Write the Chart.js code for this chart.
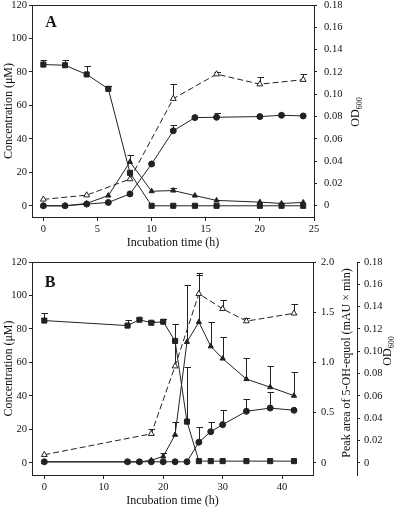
<!DOCTYPE html>
<html lang="en">
<head>
<meta charset="UTF-8">
<title>Conversion time course</title>
<script src="https://cdn.jsdelivr.net/npm/chart.js"></script>
<style>
  body { margin: 0; background: #fff; }
  #wrap { position: relative; width: 400px; height: 508px; overflow: hidden; }
  canvas { position: absolute; left: 0; }
  #chartA { top: 0; }
  #chartB { top: 250px; }
</style>
</head>
<body>
<div id="wrap">
  <canvas id="chartA" width="400" height="250"></canvas>
  <canvas id="chartB" width="400" height="258"></canvas>
</div>
<script>
// ---- panel A ----
const timeA = [0, 2, 4, 6, 8, 10, 12, 14, 16, 20, 22, 24];
const squaresA = [84.4, 84, 78.5, 69.9, 19.7, 0, 0, 0, 0, 0, 0, 0];
const squaresErrA = [87, 87, 83.6, 71.8, null, null, null, null, null, null, null, null];
const trianglesA = [0, 0, 1.4, 6.1, 26.2, 8.7, 9.1, 6.1, 3.2, 2.2, 1.4, 2.0];
const trianglesErrA = [null, null, null, null, 30.3, null, 10.6, null, null, null, null, null];
const circlesA = [0, 0, 1.0, 2.0, 7.1, 25, 44.8, 52.7, 52.9, 53.3, 54.1, 53.7];
const circlesErrA = [null, null, null, null, null, null, 48.2, null, 55.5, null, null, null];
const odTimeA = [0, 4, 8, 12, 16, 20, 24];
const odA = [0.0057, 0.0095, 0.0239, 0.096, 0.118, 0.109, 0.113];
const odErrA = [null, null, null, 0.109, 0.1195, 0.1157, 0.118];

// ---- panel B ----
const timeB = [0, 14, 16, 18, 20, 22, 24, 26, 28, 30, 34, 38, 42];
const squaresB = [85, 82, 85.5, 83.7, 84.3, 72.8, 24.6, 1, 1, 1, 1, 1, 1];
const squaresErrB = [89.5, 85.5, 86.7, 84.7, 85.9, null, 57.3, null, null, null, null, null, null];
const trianglesB = [0.5, 0.5, 0.5, 1.5, 3.8, 16.7, 72.2, 84.1, 69.6, 62.3, 50, 45.2, 40.1];
const trianglesErrB = [null, null, null, null, 5.8, 24.6, 106.4, 112, 84.1, 75.2, 62.7, 57.7, 54];
const circlesB = [0.01, 0.01, 0.01, 0.01, 0.01, 0.01, 0.01, 0.205, 0.31, 0.38, 0.513, 0.545, 0.523];
const circlesErrB = [null, null, null, null, null, null, null, 0.353, 0.41, 0.525, 0.638, 0.707, null];
const odTimeB = [0, 18, 22, 26, 30, 34, 42];
const odB = [0.0072, 0.026, 0.0866, 0.1515, 0.138, 0.127, 0.134];
const odErrB = [null, 0.030, 0.1245, 0.17, 0.1455, 0.13, 0.1425];

// ---- ticks ----
const xTicksA = [0, 5, 10, 15, 20, 25];
const xTicksB = [0, 10, 20, 30, 40];
const concTicks = [0, 20, 40, 60, 80, 100, 120];
const odTicks = [0, 0.02, 0.04, 0.06, 0.08, 0.10, 0.12, 0.14, 0.16, 0.18];
const odLabels = ['0', '0.02', '0.04', '0.06', '0.08', '0.10', '0.12', '0.14', '0.16', '0.18'];
const peakTicks = [0, 0.5, 1.0, 1.5, 2.0];
const peakLabels = ['0', '0.5', '1.0', '1.5', '2.0'];

Chart.defaults.font.family = "'Liberation Serif', 'Times New Roman', serif";
Chart.defaults.font.size = 10.5;
Chart.defaults.color = '#111';

const ink = '#222';

function pts(xs, ys) {
  return xs.map((x, i) => ({ x: x, y: ys[i] }));
}

function series(xs, ys, err, style, axis, extra) {
  return Object.assign({
    data: pts(xs, ys),
    errTop: err,
    yAxisID: axis,
    borderColor: ink,
    borderWidth: 1,
    pointStyle: style,
    pointRadius: style === 'rect' ? 3.6 : 3,
    pointBackgroundColor: ink,
    pointBorderColor: ink,
    pointBorderWidth: 1,
    tension: 0,
    fill: false
  }, extra || {});
}

const errorBars = {
  id: 'errorBars',
  beforeDatasetsDraw(chart) {
    const ctx = chart.ctx;
    const a = chart.chartArea;
    ctx.save();
    ctx.strokeStyle = ink;
    ctx.lineWidth = 1;
    ctx.strokeRect(a.left + 0.5, a.top + 0.5, a.right - a.left, a.bottom - a.top);
    chart.data.datasets.forEach(ds => {
      if (!ds.errTop) return;
      const xs = chart.scales.x, ys = chart.scales[ds.yAxisID];
      ds.data.forEach((p, j) => {
        const top = ds.errTop[j];
        if (top == null) return;
        const px = Math.round(xs.getPixelForValue(p.x)) + 0.5;
        const y0 = ys.getPixelForValue(p.y);
        const y1 = Math.round(ys.getPixelForValue(top)) + 0.5;
        ctx.beginPath();
        ctx.moveTo(px, y0);
        ctx.lineTo(px, y1);
        ctx.moveTo(px - 3, y1);
        ctx.lineTo(px + 3.5, y1);
        ctx.stroke();
      });
    });
    ctx.restore();
  }
};

// rotated side titles, letter tags
function sideTitle(ctx, x, y, main, sub) {
  ctx.save();
  ctx.translate(x, y);
  ctx.rotate(-Math.PI / 2);
  ctx.fillStyle = '#111';
  ctx.textBaseline = 'middle';
  ctx.font = "12px 'Liberation Serif'";
  const w1 = ctx.measureText(main).width;
  let w2 = 0;
  if (sub) {
    ctx.font = "8px 'Liberation Serif'";
    w2 = ctx.measureText(sub).width;
  }
  const start = -(w1 + w2) / 2;
  ctx.font = "12px 'Liberation Serif'";
  ctx.fillText(main, start, 0);
  if (sub) {
    ctx.font = "8px 'Liberation Serif'";
    ctx.fillText(sub, start + w1, 4);
  }
  ctx.restore();
}

function labelsPlugin(draw) {
  return { id: 'labels', afterDraw(chart) { draw(chart.ctx); } };
}

function axisBase(extra) {
  return Object.assign({
    grid: { drawOnChartArea: false, tickLength: 3, color: ink },
    border: { color: ink, width: 1 }
  }, extra);
}

function fixTicks(list) {
  return s => { s.ticks = list.map(v => ({ value: v })); };
}

function fixSize(dim, size) {
  return s => {
    s[dim] = size;
    s.paddingTop = 0; s.paddingBottom = 0; s.paddingLeft = 0; s.paddingRight = 0;
  };
}

function xAxis(min, max, ticks) {
  return axisBase({
    type: 'linear', position: 'bottom', min: min, max: max,
    grid: { drawOnChartArea: false, tickLength: 4, color: ink },
    afterBuildTicks: fixTicks(ticks),
    ticks: { padding: 2, maxRotation: 0, callback: v => v },
    title: { display: true, text: 'Incubation time (h)', font: { size: 12 }, padding: { top: 0, bottom: 0 } },
    afterFit: fixSize('height', 33)
  });
}

function concAxis(min) {
  return axisBase({
    position: 'left', min: min, max: 120,
    afterBuildTicks: fixTicks(concTicks),
    ticks: { padding: 2, callback: v => v },
    title: { display: true, text: 'Concentration (μM)', font: { size: 12 }, padding: { top: 2, bottom: 0 } },
    afterFit: fixSize('width', 32)
  });
}

// panel A
new Chart(document.getElementById('chartA'), {
  type: 'line',
  data: {
    datasets: [
      series(timeA, squaresA, squaresErrA, 'rect', 'y'),
      series(timeA, trianglesA, trianglesErrA, 'triangle', 'y'),
      series(timeA, circlesA, circlesErrA, 'circle', 'y'),
      series(odTimeA, odA, odErrA, 'triangle', 'yOd', { borderDash: [6, 3], pointBackgroundColor: '#fff', pointRadius: 3.4 })
    ]
  },
  options: {
    responsive: false,
    animation: false,
    layout: { padding: { top: 2, left: 0, right: 0, bottom: 0 } },
    plugins: { legend: { display: false }, tooltip: { enabled: false } },
    scales: {
      x: xAxis(-1.05, 25, xTicksA),
      y: concAxis(-6.7),
      yOd: axisBase({
        position: 'right', min: -0.0101, max: 0.18,
        afterBuildTicks: fixTicks(odTicks),
        ticks: { padding: 7, callback: (v, i) => odLabels[i] },
        afterFit: fixSize('width', 86)
      })
    }
  },
  plugins: [errorBars, labelsPlugin(ctx => {
    sideTitle(ctx, 356, 112, 'OD', '600');
    ctx.save();
    ctx.fillStyle = '#111';
    ctx.font = "bold 16px 'Liberation Serif'";
    ctx.textAlign = 'center';
    ctx.textBaseline = 'middle';
    ctx.fillText('A', 51, 23);
    ctx.restore();
  })]
});

// panel B
new Chart(document.getElementById('chartB'), {
  type: 'line',
  data: {
    datasets: [
      series(timeB, squaresB, squaresErrB, 'rect', 'y'),
      series(timeB, trianglesB, trianglesErrB, 'triangle', 'y'),
      series(timeB, circlesB, circlesErrB, 'circle', 'yPeak'),
      series(odTimeB, odB, odErrB, 'triangle', 'yOd', { borderDash: [6, 3], pointBackgroundColor: '#fff', pointRadius: 3.4 })
    ]
  },
  options: {
    responsive: false,
    animation: false,
    layout: { padding: { top: 12, left: 0, right: 0, bottom: 0 } },
    plugins: { legend: { display: false }, tooltip: { enabled: false } },
    scales: {
      x: xAxis(-2.07, 45.2, xTicksB),
      y: concAxis(-7.3),
      yPeak: axisBase({
        position: 'right', weight: 0, min: -0.1217, max: 2.0,
        afterBuildTicks: fixTicks(peakTicks),
        ticks: { padding: 5, callback: (v, i) => peakLabels[i] },
        afterFit: fixSize('width', 44)
      }),
      yOd: axisBase({
        position: 'right', weight: 1, min: -0.01095, max: 0.18,
        afterBuildTicks: fixTicks(odTicks),
        ticks: { padding: 4, callback: (v, i) => odLabels[i] },
        afterFit: fixSize('width', 43)
      })
    }
  },
  plugins: [errorBars, labelsPlugin(ctx => {
    sideTitle(ctx, 347, 113, 'Peak area of 5-OH-equol (mAU × min)');
    sideTitle(ctx, 388, 101, 'OD', '600');
    ctx.save();
    ctx.fillStyle = '#111';
    ctx.font = "bold 16px 'Liberation Serif'";
    ctx.textAlign = 'center';
    ctx.textBaseline = 'middle';
    ctx.fillText('B', 50, 33);
    ctx.restore();
  })]
});
</script>
</body>
</html>
